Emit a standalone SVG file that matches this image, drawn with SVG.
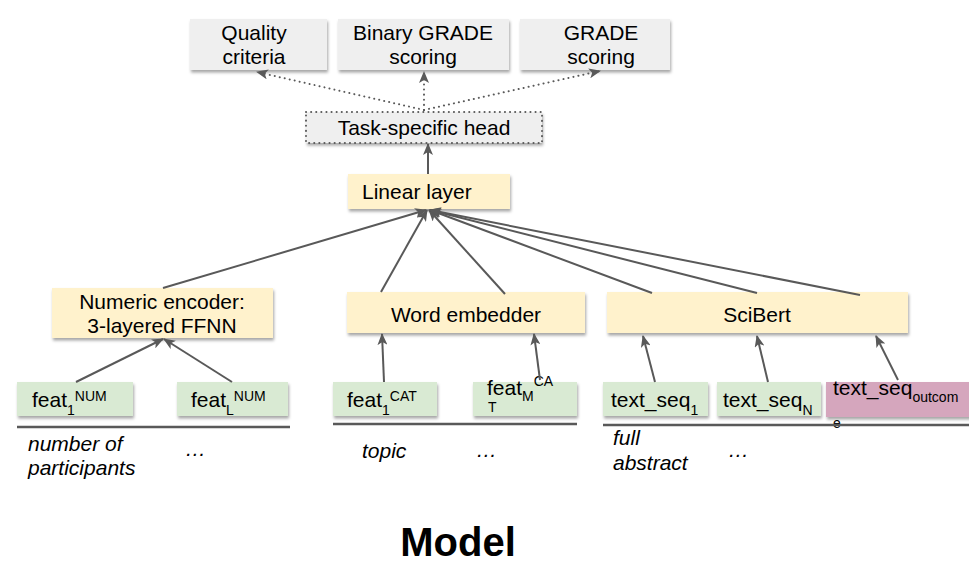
<svg xmlns="http://www.w3.org/2000/svg" width="969" height="565" viewBox="0 0 969 565">
<defs>
<filter id="sh" x="-10%" y="-20%" width="120%" height="160%">
<feDropShadow dx="1" dy="2.5" stdDeviation="1.5" flood-color="#000" flood-opacity="0.35"/>
</filter>
<marker id="ah" viewBox="0 0 12 10" refX="11" refY="5" markerWidth="12" markerHeight="10" markerUnits="userSpaceOnUse" orient="auto">
<path d="M0,0 L12,5 L0,10 L3,5 z" fill="#595959"/>
</marker>
</defs>
<style>
text{font-family:"Liberation Sans",Arial,sans-serif;fill:#000;}
.t{font-size:21px;}
.c{text-anchor:middle;}
.s{font-size:14px;}
.it{font-size:21px;font-style:italic;}
.gray{fill:#efefef;}
.yel{fill:#fff2cc;}
.grn{fill:#d9ead3;}
.pink{fill:#d5a6bd;}
.ln{stroke:#595959;stroke-width:2;fill:none;}
.dot{stroke:#595959;stroke-width:2;fill:none;stroke-dasharray:0.1 5;stroke-linecap:round;}
.rule{stroke:#595959;stroke-width:2.5;}
</style>
<rect width="969" height="565" fill="#fff"/>

<g id="quality">
<rect class="gray" x="190" y="19" width="137" height="51" filter="url(#sh)"/>
<text class="t c" x="254" y="40">Quality</text>
<text class="t c" x="254" y="64">criteria</text>
</g>
<g id="binary">
<rect class="gray" x="338" y="19" width="171" height="51" filter="url(#sh)"/>
<text class="t c" x="423" y="40">Binary GRADE</text>
<text class="t c" x="423" y="64">scoring</text>
</g>
<g id="grade">
<rect class="gray" x="520" y="19" width="150" height="51" filter="url(#sh)"/>
<text class="t c" x="601" y="40">GRADE</text>
<text class="t c" x="601" y="64">scoring</text>
</g>
<g id="head">
<rect class="gray" x="306" y="112" width="236" height="31" filter="url(#sh)"/>
<rect x="306" y="112" width="236" height="31" class="dot" stroke-width="1.5"/>
<text class="t c" x="424" y="135">Task-specific head</text>
</g>
<g id="linear">
<rect class="yel" x="348" y="174" width="162" height="35" filter="url(#sh)"/>
<text class="t" x="362" y="199">Linear layer</text>
</g>
<g id="numeric">
<rect class="yel" x="52" y="288" width="221" height="50" filter="url(#sh)"/>
<text class="t c" x="162" y="309">Numeric encoder:</text>
<text class="t c" x="162" y="333">3-layered FFNN</text>
</g>
<g id="word">
<rect class="yel" x="347" y="292" width="238" height="41" filter="url(#sh)"/>
<text class="t c" x="466" y="322">Word embedder</text>
</g>
<g id="scibert">
<rect class="yel" x="607" y="292" width="301" height="41" filter="url(#sh)"/>
<text class="t c" x="757" y="322">SciBert</text>
</g>

<g id="feat1num">
<rect class="grn" x="17" y="382" width="116" height="34" filter="url(#sh)"/>
<text class="t" x="32" y="407">feat<tspan class="s" dy="8">1</tspan><tspan class="s" dy="-14">NUM</tspan></text>
</g>
<g id="featLnum">
<rect class="grn" x="177" y="382" width="111" height="34" filter="url(#sh)"/>
<text class="t" x="191" y="407">feat<tspan class="s" dy="8">L</tspan><tspan class="s" dy="-14">NUM</tspan></text>
</g>
<g id="feat1cat">
<rect class="grn" x="333" y="382" width="104" height="34" filter="url(#sh)"/>
<text class="t" x="347" y="407">feat<tspan class="s" dy="8">1</tspan><tspan class="s" dy="-14">CAT</tspan></text>
</g>
<g id="featMcat">
<rect class="grn" x="473" y="382" width="104" height="34" filter="url(#sh)"/>
<text class="t" x="487" y="395">feat<tspan class="s" dy="6">M</tspan><tspan class="s" dy="-15">CA</tspan></text>
<text class="s" x="488" y="412">T</text>
</g>
<g id="textseq1">
<rect class="grn" x="603" y="382" width="105" height="34" filter="url(#sh)"/>
<text class="t" x="611" y="407">text_seq<tspan class="s" dy="8">1</tspan></text>
</g>
<g id="textseqN">
<rect class="grn" x="717" y="382" width="104" height="34" filter="url(#sh)"/>
<text class="t" x="723" y="407">text_seq<tspan class="s" dy="8">N</tspan></text>
</g>
<g id="textseqout">
<rect class="pink" x="826" y="382" width="145" height="35" filter="url(#sh)"/>
<text class="t" x="833" y="395">text_seq<tspan class="s" dy="7">outcom</tspan></text>
<text class="s" x="833" y="428" font-size="12">e</text>
</g>

<g id="rules">
<line class="rule" x1="17" y1="427" x2="290" y2="427"/>
<line class="rule" x1="333" y1="424" x2="577" y2="424"/>
<line class="rule" x1="603" y1="425" x2="969" y2="425"/>
</g>

<g id="labels">
<text class="it" x="28" y="451">number of</text>
<text class="it" x="28" y="475">participants</text>
<text class="it" x="185" y="456">…</text>
<text class="it" x="362" y="458">topic</text>
<text class="it" x="476" y="457">…</text>
<text class="it" x="613" y="445">full</text>
<text class="it" x="613" y="470">abstract</text>
<text class="it" x="728" y="457">…</text>
</g>

<g id="connectors">
<line class="dot" x1="424" y1="110" x2="257" y2="72" marker-end="url(#ah)"/>
<line class="dot" x1="424" y1="110" x2="424" y2="72" marker-end="url(#ah)"/>
<line class="dot" x1="424" y1="110" x2="600" y2="71" marker-end="url(#ah)"/>
<line class="ln" x1="428" y1="174" x2="428" y2="144" marker-end="url(#ah)"/>
<line class="ln" x1="163" y1="288" x2="426" y2="210" marker-end="url(#ah)"/>
<line class="ln" x1="381" y1="292" x2="427" y2="210" marker-end="url(#ah)"/>
<line class="ln" x1="505" y1="294" x2="429" y2="210" marker-end="url(#ah)"/>
<line class="ln" x1="652" y1="293" x2="430" y2="210" marker-end="url(#ah)"/>
<line class="ln" x1="757" y1="293" x2="430" y2="210" marker-end="url(#ah)"/>
<line class="ln" x1="860" y1="295" x2="430" y2="210" marker-end="url(#ah)"/>
<line class="ln" x1="76" y1="382" x2="163" y2="339" marker-end="url(#ah)"/>
<line class="ln" x1="232" y1="382" x2="164" y2="339" marker-end="url(#ah)"/>
<line class="ln" x1="384" y1="382" x2="382" y2="334" marker-end="url(#ah)"/>
<line class="ln" x1="540" y1="380" x2="534" y2="334" marker-end="url(#ah)"/>
<line class="ln" x1="655" y1="382" x2="643" y2="336" marker-end="url(#ah)"/>
<line class="ln" x1="768" y1="382" x2="757" y2="336" marker-end="url(#ah)"/>
<line class="ln" x1="898" y1="380" x2="876" y2="336" marker-end="url(#ah)"/>
</g>

<text x="458" y="556" font-size="40" font-weight="bold" text-anchor="middle">Model</text>
</svg>
